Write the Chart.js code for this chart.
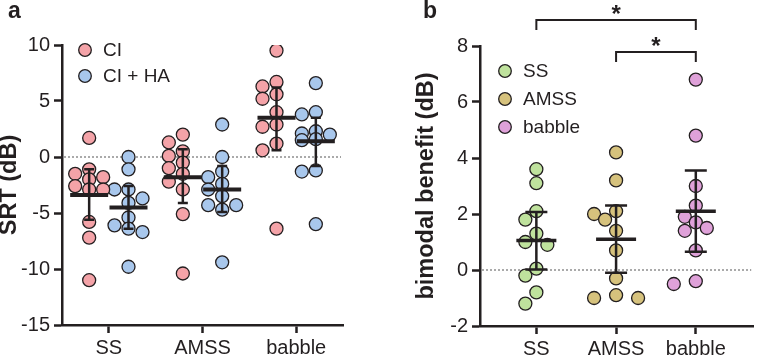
<!DOCTYPE html>
<html>
<head>
<meta charset="utf-8">
<script src="https://cdn.jsdelivr.net/npm/chart.js@4"></script>
<style>
  body { margin: 0; background: #fff; }
  #wrap { position: relative; width: 761px; height: 357px; overflow: hidden; font-family: 'Liberation Sans', Arial, sans-serif; }
  canvas { position: absolute; top: 0; }
  #chartA { left: 0; }
  #chartB { left: 415px; }
  .panel { position: absolute; font-weight: bold; font-size: 23px; color: #231f20; }
</style>
</head>
<body>
<div id="wrap">
  <canvas id="chartA" width="380" height="357"></canvas>
  <canvas id="chartB" width="346" height="357"></canvas>
  <div class="panel" style="left:8px; top:-3px;">a</div>
  <div class="panel" style="left:423px; top:-3px;">b</div>
</div>
<script>
const ink = '#231f20'
Chart.defaults.font.family = "'Liberation Sans', Arial, sans-serif"
Chart.defaults.color = ink

// panel a: SRT per noise condition
const noiseTypes = ['SS', 'AMSS', 'babble']
const ciSRT = [
  [1.7, -1.1, -1.5, -1.8, -2.0, -2.6, -2.9, -2.9, -5.8, -7.2, -11.0],
  [2.0, 1.3, 0.5, 0.1, -0.5, -1.0, -1.5, -2.2, -2.9, -5.1, -10.4],
  [9.5, 6.7, 6.3, 5.6, 5.2, 4.0, 2.9, 2.7, 1.2, 0.6, -6.4]
]
const ciHaSRT = [
  [0.0, -1.1, -2.9, -2.9, -3.7, -4.1, -5.4, -6.1, -6.4, -6.7, -9.8],
  [2.9, 0.0, -1.3, -1.8, -2.4, -2.9, -3.5, -4.3, -4.3, -4.7, -9.4],
  [6.6, 4.0, 3.8, 2.3, 2.1, 2.0, 1.6, 1.5, -1.2, -1.3, -6.0]
]
const ciMean = [-3.4, -1.8, 3.5]
const ciLow = [-5.6, -4.1, 0.6]
const ciHigh = [-1.1, 0.7, 6.2]
const ciHaMean = [-4.5, -2.9, 1.4]
const ciHaLow = [-6.4, -4.9, -0.8]
const ciHaHigh = [-2.6, -0.8, 3.5]

// panel b: bimodal benefit
const benefit = [
  [3.6, 3.1, 2.1, 1.8, 1.3, 1.0, 0.9, 0.05, -0.2, -0.8, -1.2],
  [4.2, 3.2, 2.1, 2.0, 1.8, 1.4, 0.7, -0.3, -0.9, -1.0, -1.0],
  [6.8, 4.8, 3.0, 2.3, 1.9, 1.7, 1.5, 1.4, 0.7, -0.4, -0.5]
]
const benefitMean = [1.05, 1.1, 2.1]
const benefitLow = [0.02, -0.1, 0.65]
const benefitHigh = [2.07, 2.3, 3.55]
const brackets = [
  { from: 0, to: 2, level: 8.93, label: '*' },
  { from: 1, to: 2, level: 7.79, label: '*' }
]

const colors = {
  ci: '#f4a3a8',
  ciHa: '#a8c7ec',
  SS: '#bfe29d',
  AMSS: '#d6c27d',
  babble: '#dfa1d9'
}

const groupShift = 0.21

function pointsAt(groups, shift) {
  const out = []
  groups.forEach((vals, i) => vals.forEach(v => out.push({ x: i + shift, y: v })))
  return out
}

// simple beeswarm: spread overlapping points sideways, at most maxOff steps
function swarm(chart, step, minDist, maxOff) {
  const xs = chart.scales.x
  const ys = chart.scales.y
  const offs = [0]
  for (let k = 1; k <= maxOff; k++) offs.push(-k, k)
  chart.data.datasets.forEach(ds => {
    const byCenter = {}
    ds.data.forEach(p => {
      (byCenter[p.x] = byCenter[p.x] || []).push(p)
    })
    Object.values(byCenter).forEach(pts => {
      const placed = []
      const cx = xs.getPixelForValue(pts[0].x)
      pts.slice().sort((a, b) => b.y - a.y).forEach(p => {
        const py = ys.getPixelForValue(p.y)
        let best = null
        for (const off of offs) {
          const px = cx + off * step
          const d = Math.min(Infinity, ...placed.map(q => Math.hypot(q.x - px, q.y - py)))
          if (d >= minDist) { best = { px, d }; break }
          if (!best || d > best.d) best = { px, d }
        }
        placed.push({ x: best.px, y: py })
        p.x = xs.getValueForPixel(best.px)
      })
    })
  })
  chart.update('none')
}

const zeroLine = {
  id: 'zeroLine',
  beforeDatasetsDraw(chart) {
    const { ctx, chartArea } = chart
    const y = chart.scales.y.getPixelForValue(0)
    ctx.save()
    ctx.strokeStyle = '#444'
    ctx.lineWidth = 0.9
    ctx.setLineDash([2, 2])
    ctx.beginPath()
    ctx.moveTo(chartArea.left + 2, y)
    ctx.lineTo(chartArea.right - 2, y)
    ctx.stroke()
    ctx.restore()
  }
}

const meanBars = {
  id: 'meanBars',
  afterDatasetsDraw(chart, args, opts) {
    const { ctx } = chart
    const xs = chart.scales.x
    const ys = chart.scales.y
    ctx.save()
    ctx.strokeStyle = ink
    opts.series.forEach(s => {
      s.mean.forEach((m, i) => {
        const cx = xs.getPixelForValue(i + s.shift)
        const top = ys.getPixelForValue(s.high[i])
        const bot = ys.getPixelForValue(s.low[i])
        const my = ys.getPixelForValue(m)
        ctx.lineWidth = opts.lineWidth
        ctx.beginPath()
        ctx.moveTo(cx, top)
        ctx.lineTo(cx, bot)
        ctx.moveTo(cx - opts.cap, top)
        ctx.lineTo(cx + opts.cap, top)
        ctx.moveTo(cx - opts.cap, bot)
        ctx.lineTo(cx + opts.cap, bot)
        ctx.stroke()
        ctx.lineWidth = opts.meanWidth
        ctx.beginPath()
        ctx.moveTo(cx - opts.half, my)
        ctx.lineTo(cx + opts.half, my)
        ctx.stroke()
      })
    })
    ctx.restore()
  }
}

const dotLegend = {
  id: 'dotLegend',
  afterDraw(chart, args, opts) {
    const { ctx } = chart
    ctx.save()
    ctx.font = opts.size + "px 'Liberation Sans', Arial, sans-serif"
    ctx.textBaseline = 'middle'
    chart.data.datasets.forEach((ds, i) => {
      const y = opts.y + i * opts.gap
      ctx.beginPath()
      ctx.arc(opts.x, y, 6.3, 0, Math.PI * 2)
      ctx.fillStyle = ds.backgroundColor
      ctx.fill()
      ctx.lineWidth = 1.3
      ctx.strokeStyle = ink
      ctx.stroke()
      ctx.fillStyle = ink
      ctx.fillText(ds.label, opts.x + 18, y + 1)
    })
    ctx.restore()
  }
}

const sigBrackets = {
  id: 'sigBrackets',
  afterDraw(chart, args, opts) {
    const { ctx } = chart
    const xs = chart.scales.x
    const ys = chart.scales.y
    ctx.save()
    ctx.strokeStyle = ink
    ctx.fillStyle = ink
    ctx.lineWidth = 2
    ctx.font = "bold 24px 'Liberation Sans', Arial, sans-serif"
    ctx.textAlign = 'center'
    ctx.textBaseline = 'alphabetic'
    opts.items.forEach(b => {
      const x1 = xs.getPixelForValue(b.from)
      const x2 = xs.getPixelForValue(b.to)
      const y = ys.getPixelForValue(b.level)
      ctx.beginPath()
      ctx.moveTo(x1, y + 10)
      ctx.lineTo(x1, y)
      ctx.lineTo(x2, y)
      ctx.lineTo(x2, y + 10)
      ctx.stroke()
      ctx.fillText(b.label, (x1 + x2) / 2, y + 2)
    })
    ctx.restore()
  }
}

function axes(xMin, xMax, yMin, yMax, yStep, title, titlePad, yWidth, xHeight) {
  const grid = { drawOnChartArea: false, tickLength: 8, tickWidth: 2.5, tickColor: ink, offset: false }
  const border = { color: ink, width: 2.5 }
  return {
    x: {
      type: 'linear', min: xMin, max: xMax,
      grid, border,
      afterBuildTicks: s => { s.ticks = noiseTypes.map((c, i) => ({ value: i })) },
      afterFit: s => { s.height = xHeight },
      ticks: { font: { size: 20 }, padding: 3, callback: v => noiseTypes[v] }
    },
    y: {
      min: yMin, max: yMax,
      grid, border,
      afterFit: s => { s.width = yWidth },
      title: { display: true, text: title, font: { size: 23.5, weight: 'bold', lineHeight: 1 }, padding: { top: titlePad, bottom: 0 } },
      ticks: { font: { size: 20 }, padding: 4, stepSize: yStep }
    }
  }
}

const pointStyle = { borderColor: ink, borderWidth: 1.3, pointRadius: 6.5, pointHoverRadius: 6.5 }

const chartA = new Chart(document.getElementById('chartA'), {
  type: 'scatter',
  data: {
    datasets: [
      { label: 'CI', data: pointsAt(ciSRT, -groupShift), backgroundColor: colors.ci, ...pointStyle },
      { label: 'CI + HA', data: pointsAt(ciHaSRT, groupShift), backgroundColor: colors.ciHa, ...pointStyle }
    ]
  },
  options: {
    responsive: false,
    animation: false,
    layout: { padding: { top: 45, right: 37, left: 0, bottom: 0 } },
    scales: axes(-0.5, 2.5, -15, 10, 5, 'SRT (dB)', -2, 62, 32),
    plugins: {
      legend: { display: false },
      tooltip: { enabled: false },
      meanBars: {
        lineWidth: 2.5, meanWidth: 4, half: 19, cap: 5,
        series: [
          { shift: -groupShift, mean: ciMean, low: ciLow, high: ciHigh },
          { shift: groupShift, mean: ciHaMean, low: ciHaLow, high: ciHaHigh }
        ]
      },
      dotLegend: { x: 85, y: 50, gap: 26, size: 19 }
    }
  },
  plugins: [zeroLine, meanBars, dotLegend]
})

const chartB = new Chart(document.getElementById('chartB'), {
  type: 'scatter',
  data: {
    datasets: noiseTypes.map((name, i) => ({
      label: name,
      data: benefit[i].map(v => ({ x: i, y: v })),
      backgroundColor: colors[name],
      ...pointStyle
    }))
  },
  options: {
    responsive: false,
    animation: false,
    layout: { padding: { top: 46, right: 0, left: 0, bottom: 0 } },
    scales: axes(-0.707, 2.72, -2, 8, 2, 'bimodal benefit (dB)', 0, 65, 31),
    plugins: {
      legend: { display: false },
      tooltip: { enabled: false },
      meanBars: {
        lineWidth: 2.5, meanWidth: 3.5, half: 20, cap: 11,
        series: [{ shift: 0, mean: benefitMean, low: benefitLow, high: benefitHigh }]
      },
      dotLegend: { x: 90, y: 71, gap: 28, size: 19 },
      sigBrackets: { items: brackets }
    }
  },
  plugins: [zeroLine, meanBars, dotLegend, sigBrackets]
})

swarm(chartA, 14, 10.5, 1)
swarm(chartB, 11, 12, 2)
</script>
</body>
</html>
